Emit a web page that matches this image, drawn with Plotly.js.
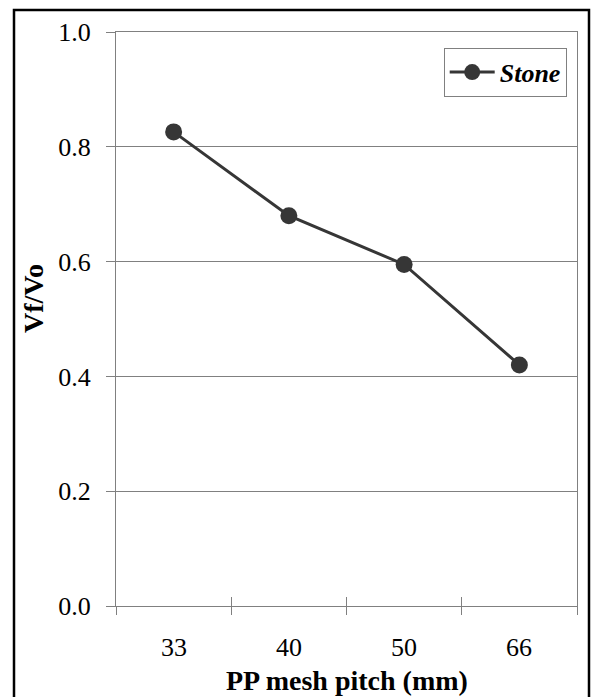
<!DOCTYPE html>
<html><head><meta charset="utf-8">
<script src="https://cdn.plot.ly/plotly-3.0.1.min.js"></script>
<style>html,body{margin:0;padding:0;background:#fff}#c{width:591px;height:697px}</style>
</head><body><div id="c"></div>
<script>
const categories = ["33", "40", "50", "66"];
const vfvo = [0.826, 0.680, 0.595, 0.420];
const yTicks = [0, 0.2, 0.4, 0.6, 0.8, 1.0];
const yTickText = ["0.0", "0.2", "0.4", "0.6", "0.8", "1.0"];
const seriesName = "Stone";

const catPos = categories.map((c, i) => i + 1);
const boundaries = [0.5, 1.5, 2.5, 3.5, 4.5];
const serif = "Liberation Serif";
const W = 591, H = 697, L = 116, R = 14, T = 32, B = 91;
const pw = W - L - R, ph = H - T - B;

const trace = {
  x: catPos, y: vfvo, name: seriesName, type: "scatter", mode: "lines+markers",
  line: {color: "#363636", width: 3},
  marker: {color: "#363636", size: 17}
};
const dummy = {x: [0.5, 4.5], y: [0, 0], xaxis: "x2", yaxis: "y", mode: "none", showlegend: false, hoverinfo: "skip"};

const layout = {
  width: W, height: H,
  margin: {l: L, r: R, t: T, b: B},
  paper_bgcolor: "#fff", plot_bgcolor: "#fff",
  font: {family: serif, color: "#000"},
  showlegend: true,
  legend: {x: (566.7 - L) / pw, xanchor: "right", y: 1 - (47.7 - T) / ph, yanchor: "top",
    bordercolor: "#808080", borderwidth: 1, bgcolor: "#fff", itemwidth: 45,
    font: {family: serif, size: 26, color: "#000", weight: "bold", style: "italic"}},
  xaxis: {
    range: [0.5, 4.5], tickvals: boundaries, ticktext: boundaries.map(() => ""),
    ticks: "outside", ticklen: 8, tickcolor: "#808080", tickwidth: 1,
    showline: true, linecolor: "#808080", linewidth: 1, mirror: true,
    showgrid: false, zeroline: false, fixedrange: true
  },
  xaxis2: {
    overlaying: "x", anchor: "y", side: "bottom",
    range: [0.5, 4.5], tickvals: boundaries, ticktext: boundaries.map(() => ""),
    ticks: "inside", ticklen: 9, tickcolor: "#808080", tickwidth: 1,
    showline: false, showgrid: false, zeroline: false
  },
  yaxis: {
    range: [0, 1.0], tickvals: yTicks, ticktext: yTickText,
    ticks: "outside", ticklen: 9, tickcolor: "#808080", tickwidth: 1,
    ticklabelstandoff: 10,
    tickfont: {family: serif, size: 26, color: "#000"},
    showline: true, linecolor: "#808080", linewidth: 1, mirror: true,
    showgrid: true, gridcolor: "#808080", gridwidth: 1, zeroline: false
  },
  annotations: [
    ...categories.map((c, i) => ({x: catPos[i], xref: "x", y: 1 - (647 - T) / ph, yref: "paper", text: c, showarrow: false,
      font: {family: serif, size: 26, color: "#000"}, yanchor: "middle"})),
    {x: 0.5, xref: "paper", y: 1 - (680 - T) / ph, yref: "paper", text: "<b>PP mesh pitch (mm)</b>", showarrow: false,
      font: {family: serif, size: 28, color: "#000"}, yanchor: "middle"},
    {x: (33 - L) / pw, xref: "paper", y: 1 - (299 - T) / ph, yref: "paper", text: "<b>Vf/Vo</b>", textangle: -90, showarrow: false,
      font: {family: serif, size: 28, color: "#000"}, xanchor: "center", yanchor: "middle"}
  ],
  shapes: [{type: "rect", xref: "paper", yref: "paper",
    x0: (14 - L) / pw, x1: (589 - L) / pw, y0: 1 - (700 - T) / ph, y1: 1 + (T - 10) / ph,
    line: {color: "#000", width: 2.5}, fillcolor: "rgba(0,0,0,0)"}]
};

Plotly.newPlot("c", [trace, dummy], layout, {displayModeBar: false, staticPlot: true});
</script></body></html>
